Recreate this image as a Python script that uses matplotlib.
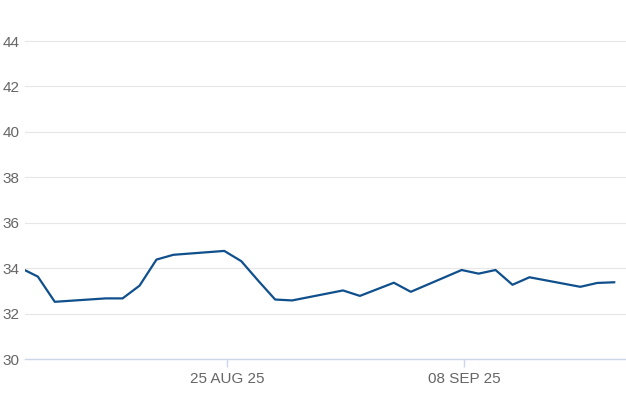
import datetime as dt
import matplotlib
matplotlib.use("Agg")
import matplotlib.pyplot as plt

# daily values
dates = ["2025-08-13", "2025-08-14", "2025-08-15", "2025-08-18", "2025-08-19",
         "2025-08-20", "2025-08-21", "2025-08-22", "2025-08-25", "2025-08-26",
         "2025-08-27", "2025-08-28", "2025-08-29", "2025-09-01", "2025-09-02",
         "2025-09-04", "2025-09-05", "2025-09-08", "2025-09-09", "2025-09-10",
         "2025-09-11", "2025-09-12", "2025-09-15", "2025-09-16", "2025-09-17"]
values = [34.00, 33.63, 32.52, 32.67, 32.67,
          33.23, 34.38, 34.59, 34.76, 34.31,
          33.45, 32.62, 32.58, 33.02, 32.78,
          33.36, 32.96, 33.92, 33.76, 33.92,
          33.27, 33.60, 33.18, 33.35, 33.38]

y_ticks = [30, 32, 34, 36, 38, 40, 42, 44]
x_ticks = ["2025-08-25", "2025-09-08"]
x_tick_labels = ["25 AUG 25", "08 SEP 25"]

to_date = lambda s: dt.datetime.strptime(s, "%Y-%m-%d")
# points sit a few hours before the midnight ticks (timezone offset)
tz_shift = dt.timedelta(hours=-3.5)
xs = [to_date(d) + tz_shift for d in dates]

plt.rcParams['font.family'] = ['Liberation Sans', 'DejaVu Sans']

fig = plt.figure(figsize=(6.26, 4.17), dpi=100)
ax = fig.add_axes([0.04, 0.139, 0.96, 0.817])

ax.plot(xs, values, color="#0f4f8c", linewidth=1.6, solid_joinstyle="round")

# grid and axes styling
ax.set_ylim(30, 45)
ax.set_yticks(y_ticks)
ax.yaxis.grid(True, color="#e6e6e6", linewidth=0.8)
ax.set_axisbelow(True)

left = to_date("2025-08-25") - dt.timedelta(days=11.9)
right = to_date("2025-09-08") + dt.timedelta(days=9.55)
ax.set_xlim(left, right)
ax.set_xticks([to_date(d) for d in x_ticks])
ax.set_xticklabels(x_tick_labels)

for s in ["top", "right", "left"]:
    ax.spines[s].set_visible(False)
ax.spines["bottom"].set_color("#ccd6eb")
ax.spines["bottom"].set_linewidth(1.0)

ax.tick_params(axis="y", length=0, pad=4, labelsize=11, labelcolor="#666666")
ax.tick_params(axis="x", length=6, width=1, color="#ccd6eb", pad=3,
               labelsize=11, labelcolor="#666666")

fig.savefig("out.png", dpi=100)
